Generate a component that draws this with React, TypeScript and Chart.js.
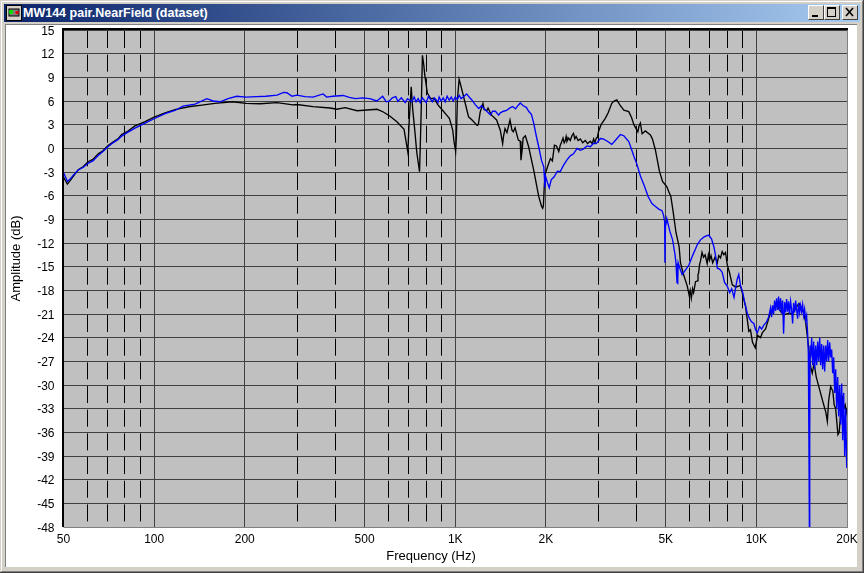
import React, { useEffect, useRef } from "react";
import { Chart, registerables } from "chart.js";

Chart.register(...registerables);

const windowTitle = "MW144 pair.NearField (dataset)";
const xAxisTitle = "Frequency (Hz)";
const yAxisTitle = "Amplitude (dB)";

const seriesNames = ["Blue trace", "Black trace"];

const dashedFreqs = [60, 70, 80, 90, 300, 400, 600, 700, 800, 900, 3000, 4000, 6000, 7000, 8000, 9000];
const labelledFreqs = [50, 100, 200, 500, 1000, 2000, 5000, 10000, 20000];
const labelTexts = ["50", "100", "200", "500", "1K", "2K", "5K", "10K", "20K"];

const blackFreqLow = [
  50, 51.5, 52.6, 53.5, 56, 58.2, 60.3, 62.6, 65.2, 67.6, 70.3, 73, 75.8, 78, 81.9, 86.4, 93.3, 100, 108.7, 117.3,
  131.5, 142, 159, 182, 202, 225, 256, 289, 298, 337, 384, 404, 431, 472, 550, 575, 606, 640, 676, 696, 702, 714,
  722, 733, 745, 761, 765, 771, 778, 786, 792, 808, 828, 850, 876, 909, 932, 956, 981, 991, 1003, 1009, 1016, 1030,
  1038, 1065, 1107, 1137, 1182, 1193, 1210, 1236, 1248, 1274, 1285, 1320, 1372, 1411, 1437, 1446, 1463, 1485, 1520,
  1543, 1559, 1580, 1620, 1644, 1653, 1670, 1680, 1709, 1753, 1822, 1893, 1933, 1952, 1962, 1977, 1992, 2023, 2070,
  2102, 2135, 2168, 2207,
];
const blackDbLow = [
  -3.63, -4.52, -4.1, -3.7, -2.7, -2.3, -1.7, -1.4, -0.7, -0.3, 0.35, 0.8, 1.2, 1.75, 2.2, 2.85, 3.4, 3.95, 4.5, 4.9,
  5.3, 5.45, 5.7, 5.9, 5.7, 5.65, 5.8, 5.5, 5.55, 5.28, 5.11, 4.95, 5.15, 4.77, 4.95, 4.64, 4.1, 3.38, 2.41, -0.5, 3,
  7.8, 5, 2.5, -0.5, -2.96, 0, 5, 11.8, 10.6, 9.3, 7, 6.3, 6.35, 5.5, 4.8, 4.3, 3.8, 2.3, 0.8, -0.4, 1.5, 6, 8.75,
  8.3, 6.6, 4, 3.6, 2.9, 3, 4.6, 5.7, 4.9, 4.8, 5.1, 4.2, 3.6, 2.3, 0.6, 1.5, 2.5, 2, 3.6, 2.3, 2.1, 2.6, 1.05, 0.9,
  -1.5, 0, 1.3, 1.6, 0.2, -2.75, -6.1, -7.3, -7.6, -7.3, -4.5, -3.2, -2.4, -1.3, -1.6, 0.4, 0.3, -0.4,
];

const blackFreqPlateau = [
  2233, 2260, 2280, 2300, 2320, 2335, 2350, 2380, 2410, 2440, 2470, 2495, 2520, 2560, 2603, 2650, 2704, 2750, 2810,
  2850, 2880, 2910, 2940, 2965,
];
const blackDbPlateau = [
  0.4, 0.9, 1.3, 0.7, 1.0, 1.5, 0.9, 1.3, 1.0, 1.6, 1.9, 1.2, 1.5, 1.0, 1.2, 0.7, 1.0, 0.6, 0.9, 0.6, 1.2, 0.7, 1.3,
  1.4,
];

const blackFreqFall = [
  2990, 3050, 3150, 3220, 3310, 3370, 3440, 3535, 3630, 3770, 3850, 3920, 4040, 4075, 4120, 4175, 4280, 4447, 4515,
  4620, 4765, 4880, 5040, 5120, 5200, 5290, 5410, 5540, 5597, 5730,
];
const blackDbFall = [
  2.1, 3, 3.8, 4.5, 5.7, 6, 6.15, 5.4, 4.85, 4.65, 3.9, 3, 2.1, 2.8, 3.2, 1.85, 2.2, 1.7, 1.2, -0.2, -2.9, -4.2,
  -4.85, -5.5, -6.1, -8, -10.7, -12.5, -14.5, -16,
];

const blackFreqShelf = [
  5900, 5980, 6030, 6080, 6140, 6190, 6280, 6370, 6400, 6430, 6480, 6523, 6600, 6675, 6760, 6865, 6930, 6990, 7070,
  7160, 7290, 7420, 7500, 7603, 7700, 7800, 7900, 8010,
];
const blackDbShelf = [
  -17.5, -18.6, -18, -19, -17.8, -18.3, -16.9, -16.8, -16, -15.8, -14.7, -14.3, -13.2, -13.8, -13.5, -14.6, -13.5,
  -14.2, -13.6, -14.5, -13.8, -14.5, -13.6, -13.9, -13.1, -13.5, -13.2, -14.8,
];

const blackFreqHigh = [
  8150, 8320, 8540, 8830, 8930, 9090, 9204, 9440, 9560, 9710, 9917, 10090, 10328, 10460, 10730, 11150, 11410, 11680,
  12037, 12320, 12830, 13200, 13500, 13850, 14390, 14570, 14830, 15030, 15150, 15330, 15550, 15810, 16150, 16540,
  16850, 17000, 17210, 17380, 17650, 17950, 18130, 18340, 18660, 18840, 19059, 19310, 19500, 19720, 19950, 20000,
];
const blackDbHigh = [
  -15.8, -17.3, -17.6, -17.4, -17.9, -19.2, -20, -23.2, -23, -24.6, -25.3, -23.7, -24, -23.4, -22.9, -20.8, -20.4,
  -19.8, -20.7, -21.1, -20.9, -21, -20.3, -19.65, -20.9, -22, -24.4, -26.5, -27.7, -28.5, -27.3, -29, -30.3, -31.8,
  -32.9, -33.4, -34.6, -32, -30.2, -30.8, -32.5, -33, -36.3, -36, -33.5, -31.8, -33, -32.5, -33.5, -33,
];

const blueFreqLow = [
  50, 50.6, 51.5, 52.6, 53.9, 56, 58.2, 60.3, 62.6, 65.2, 67.6, 70.3, 73, 75.8, 78, 81.9, 86.4, 93.3, 100, 108.7,
  117.3, 124.6, 136.8, 149.6, 157, 165.6, 176, 188, 202, 219, 235, 256, 269, 276, 287, 298, 317, 337, 364, 374, 392,
  424, 445, 466, 492, 520, 549, 574, 590, 604, 618, 635, 645, 662, 682, 694, 706, 718, 730, 741, 753, 765, 777, 789,
  801, 815, 827, 840, 852, 866, 876, 884, 898, 912, 926, 940, 955, 970, 985, 1000, 1015, 1031, 1046, 1062, 1092, 1112,
  1137, 1167, 1197, 1222, 1245, 1280, 1310, 1330, 1360, 1393, 1411, 1447, 1480, 1515, 1550, 1585, 1622, 1644, 1682,
  1722, 1753, 1790, 1822, 1860, 1893, 1933, 1968, 1986, 1993, 2022, 2052, 2083, 2130, 2184, 2233, 2285, 2350, 2410,
  2470, 2540, 2603, 2660, 2740, 2810, 2880, 2940, 3033, 3100, 3200, 3310, 3400, 3535, 3630, 3770, 3920, 4010, 4120,
  4250, 4370, 4500, 4635, 4740, 4860, 4920, 4960, 4970, 4990, 5040, 5160, 5270, 5370, 5410, 5450, 5480, 5500, 5570,
  5670, 5820, 5970, 6140, 6370, 6523, 6725, 6950, 7100, 7230, 7320, 7420, 7550, 7700, 7840, 8010, 8150, 8280, 8430,
  8540, 8650, 8740, 8861, 9000, 9140, 9330, 9490, 9640, 9810, 9940, 10070, 10250, 10410, 10590, 10810, 10980,
];
const blueDbLow = [
  -3.1, -3.5, -4.2, -3.9, -3.4, -2.75, -2.4, -1.9, -1.6, -0.9, -0.4, 0.2, 0.7, 1.1, 1.55, 2.05, 2.55, 3.2, 3.75, 4.4,
  4.8, 5.35, 5.6, 6.3, 6, 5.9, 6.3, 6.6, 6.5, 6.55, 6.6, 6.75, 7.1, 7.05, 6.6, 6.75, 6.55, 6.5, 6.9, 6.5, 6.6, 6.7,
  6.45, 6.3, 6.4, 6.3, 6, 6.6, 5.9, 6, 6.4, 6.55, 5.95, 6.4, 5.8, 6.3, 6.1, 5.9, 6.5, 5.9, 6.3, 5.8, 6.4, 6.1, 5.8,
  6.6, 6.2, 5.9, 6.4, 6.1, 5.8, 6.5, 6, 6.4, 5.9, 6.6, 6.1, 6.5, 6, 6.5, 6.2, 6.7, 6.3, 6.5, 6.9, 6.5, 6.1, 5.5, 5.05,
  5.4, 5.05, 4.6, 4.25, 4.7, 4.7, 4.2, 4.5, 4.7, 4.8, 5.1, 5.3, 5, 5.5, 5.75, 5.4, 5.2, 4.7, 4.3, 3.2, 1.5, 0.2, -1.5,
  -2.35, -5, -3.5, -4.3, -5, -4, -3.6, -2.9, -2.95, -2.2, -1.45, -0.95, -0.7, 0, -0.25, -0.1, 0.3, 0.2, 0.65, 0.6,
  1.25, 1.2, 0.9, 0.5, 1, 1.75, 1.6, 0.85, -1, -2, -3.5, -4.8, -6.1, -7, -7.4, -7.7, -7.9, -8.5, -9.3, -14.5, -10,
  -8.9, -10.5, -11.6, -13.5, -14.6, -17, -17.1, -14.5, -15.2, -16, -15.4, -14.8, -13.6, -12.2, -11.6, -11.2, -11,
  -11.5, -12.5, -13.6, -15.2, -15.3, -15.7, -17, -17.5, -18.3, -17.8, -18.9, -17.6, -16.5, -16, -17.4, -18.2, -19.5,
  -20.9, -21.6, -22, -22.2, -23, -23.4, -22.6, -22.9, -22.4, -22, -21.4,
];

const blueFreqBand = [
  11150, 11236, 11322, 11409, 11496, 11585, 11674, 11763, 11854, 11945, 12037, 12129, 12222, 12316, 12411, 12506,
  12602, 12699, 12797, 12895, 12994, 13094, 13195, 13296, 13398, 13501, 13605, 13710, 13815, 13921, 14028, 14136,
  14244, 14354, 14464, 14575, 14687,
];
const blueDbBand = [
  -20.2, -21.4, -19.9, -21, -19.3, -20.6, -19, -20.5, -18.8, -20.6, -19, -20.9, -19.3, -23.5, -19.5, -20.8, -19.1,
  -20.7, -19.4, -21, -19.4, -20.4, -22.2, -19.6, -20.8, -19.3, -20.4, -21.6, -19.6, -20.8, -19.9, -20.7, -19.8,
  -21.2, -20.4, -21.8, -21.2,
];

const blueFreqNotch = [14800, 14880, 14940, 15000, 15040, 15090];
const blueDbNotch = [-23.5, -26, -36, -48, -36, -25];

const blueFreqTop = [
  15150, 15266, 15383, 15501, 15620, 15740, 15861, 15983, 16106, 16230, 16352, 16478, 16604, 16732, 16860, 16990,
  17120, 17252, 17384, 17518, 17652, 17788, 17925, 18062, 18201, 18341, 18482, 18624, 18767, 18911, 19056, 19203,
  19350, 19499, 19649, 19800, 19952, 20000,
];
const blueDbTop = [
  -26.5, -24, -27.5, -24.5, -28, -25, -27.5, -24.5, -27, -24, -27.5, -24.8, -28, -25, -28.3, -25, -27, -24.3, -27,
  -24.6, -26.5, -25.5, -28.5, -26.5, -31, -28, -33, -29, -34, -30, -35, -29.8, -37, -31, -39, -33, -40.5, -37,
];

const blackFreq = [...blackFreqLow, ...blackFreqPlateau, ...blackFreqFall, ...blackFreqShelf, ...blackFreqHigh];
const blackDb = [...blackDbLow, ...blackDbPlateau, ...blackDbFall, ...blackDbShelf, ...blackDbHigh];
const blueFreq = [...blueFreqLow, ...blueFreqBand, ...blueFreqNotch, ...blueFreqTop];
const blueDb = [...blueDbLow, ...blueDbBand, ...blueDbNotch, ...blueDbTop];

const toPoints = (xs: number[], ys: number[]) => xs.map((x, i) => ({ x, y: ys[i] }));

const framePlugin = {
  id: "instrumentFrame",
  beforeDraw(chart: any) {
    const { ctx, chartArea: a } = chart;
    ctx.save();
    ctx.fillStyle = "#C0C0C0";
    ctx.fillRect(a.left, a.top, a.right - a.left, a.bottom - a.top);
    ctx.restore();
  },
  beforeDatasetsDraw(chart: any) {
    const { ctx, chartArea: a } = chart;
    ctx.save();
    ctx.fillStyle = "#808080";
    ctx.fillRect(a.left, a.bottom, a.right - a.left + 1, 1);
    ctx.fillRect(a.right, a.top, 1, a.bottom - a.top + 1);
    ctx.fillStyle = "#000000";
    ctx.fillRect(a.left - 1.5, a.top - 2, a.right - a.left + 2.5, 2);
    ctx.fillRect(a.left - 1.5, a.top - 2, 2, a.bottom - a.top + 2);
    ctx.restore();
  },
  afterDraw(chart: any) {
    const { ctx } = chart;
    ctx.save();
    ctx.fillStyle = "#000000";
    ctx.font = '13px "Liberation Sans"';
    ctx.textAlign = "center";
    ctx.textBaseline = "middle";
    ctx.fillText(xAxisTitle, 431, 556);
    ctx.translate(16, 258.5);
    ctx.rotate(-Math.PI / 2);
    ctx.fillText(yAxisTitle, 0, 0);
    ctx.restore();
  },
};

function CaptionButton({ left, children }: { left: number; children: React.ReactNode }) {
  return (
    <div
      style={{
        position: "absolute",
        left,
        top: 1,
        width: 16,
        height: 15,
        boxSizing: "border-box",
        background: "#D4D0C8",
        borderTop: "1px solid #FFFFFF",
        borderLeft: "1px solid #FFFFFF",
        borderRight: "1px solid #404040",
        borderBottom: "1px solid #404040",
      }}
    >
      <svg width="14" height="13" style={{ display: "block" }}>
        {children}
      </svg>
    </div>
  );
}

export default function App() {
  const canvasRef = useRef<HTMLCanvasElement>(null);

  useEffect(() => {
    if (!canvasRef.current) return;
    const chart = new Chart(canvasRef.current, {
      type: "line",
      data: {
        datasets: [
          {
            label: seriesNames[0],
            data: toPoints(blueFreq, blueDb),
            borderColor: "#0000FF",
            borderWidth: 1.35,
            pointRadius: 0,
            tension: 0,
          },
          {
            label: seriesNames[1],
            data: toPoints(blackFreq, blackDb),
            borderColor: "#000000",
            borderWidth: 1.35,
            pointRadius: 0,
            tension: 0,
          },
        ],
      },
      options: {
        animation: false,
        responsive: false,
        devicePixelRatio: 1,
        layout: { padding: { left: 0, top: 30, right: 17, bottom: 0 } },
        plugins: { legend: { display: false }, tooltip: { enabled: false }, title: { display: false } },
        scales: {
          x: {
            type: "logarithmic",
            min: 50,
            max: 20000,
            afterBuildTicks(scale: any) {
              scale.ticks = [...labelledFreqs, ...dashedFreqs]
                .sort((p, q) => p - q)
                .map((value) => ({ value }));
            },
            afterFit(scale: any) {
              scale.height = 46;
            },
            grid: {
              drawTicks: false,
              lineWidth: 1,
              color: (c: any) => (dashedFreqs.includes(c.tick?.value) ? "#000000" : "#404040"),
            },
            border: {
              display: false,
              dash: (c: any) => (dashedFreqs.includes(c.tick?.value) ? [17, 6.67] : []),
              dashOffset: -1,
            },
            ticks: {
              autoSkip: false,
              maxRotation: 0,
              minRotation: 0,
              padding: 5,
              color: "#000000",
              font: { family: '"Liberation Sans"', size: 12 },
              callback: (value: any) => {
                const i = labelledFreqs.indexOf(Number(value));
                return i >= 0 ? labelTexts[i] : "";
              },
            },
          },
          y: {
            type: "linear",
            min: -48,
            max: 15,
            afterFit(scale: any) {
              scale.width = 63.5;
            },
            grid: { drawTicks: false, lineWidth: 1, color: "#404040" },
            border: { display: false },
            ticks: {
              stepSize: 3,
              autoSkip: false,
              padding: 9,
              labelOffset: 1.5,
              color: "#000000",
              font: { family: '"Liberation Sans"', size: 12 },
            },
          },
        },
      } as any,
      plugins: [framePlugin],
    } as any);
    return () => chart.destroy();
  }, []);

  return (
    <div
      style={{
        position: "absolute",
        left: 0,
        top: 0,
        width: 864,
        height: 573,
        overflow: "hidden",
        background: "#D4D0C8",
      }}
    >
      <div style={{ position: "absolute", left: 1, top: 1, width: 861, height: 1, background: "#FFFFFF" }} />
      <div style={{ position: "absolute", left: 1, top: 1, width: 1, height: 570, background: "#FFFFFF" }} />
      <div style={{ position: "absolute", left: 863, top: 0, width: 1, height: 573, background: "#404040" }} />
      <div style={{ position: "absolute", left: 0, top: 572, width: 864, height: 1, background: "#404040" }} />
      <div style={{ position: "absolute", left: 862, top: 1, width: 1, height: 571, background: "#808080" }} />
      <div style={{ position: "absolute", left: 1, top: 571, width: 862, height: 1, background: "#808080" }} />
      <div
        style={{
          position: "absolute",
          left: 4,
          top: 4,
          width: 856,
          height: 18,
          background: "linear-gradient(90deg, #0A246A 0%, #A6CAF0 100%)",
        }}
      >
        <svg width="18" height="18" style={{ position: "absolute", left: 2, top: 1 }}>
          <rect x="0.5" y="0.5" width="15" height="15" fill="#D4D0C8" stroke="#000000" />
          <rect x="3" y="4" width="10" height="7" fill="#808080" stroke="#000000" />
          <circle cx="5" cy="7" r="2.2" fill="#00E000" />
          <circle cx="11" cy="7.5" r="1.8" fill="#E00000" />
        </svg>
        <div
          style={{
            position: "absolute",
            left: 19,
            top: 2,
            color: "#FFFFFF",
            font: 'bold 12.5px "Liberation Sans"',
            lineHeight: "14px",
            whiteSpace: "nowrap",
          }}
        >
          {windowTitle}
        </div>
        <CaptionButton left={804}>
          <rect x="3" y="9" width="6" height="2" fill="#000000" />
        </CaptionButton>
        <CaptionButton left={820}>
          <rect x="2.5" y="1.5" width="8" height="9" fill="none" stroke="#000000" />
          <rect x="2" y="1" width="9" height="2" fill="#000000" />
        </CaptionButton>
        <CaptionButton left={838}>
          <path d="M3 2 L10 10 M10 2 L3 10" stroke="#000000" strokeWidth="1.6" />
        </CaptionButton>
      </div>
      <div
        style={{
          position: "absolute",
          left: 5,
          top: 24,
          width: 852,
          height: 543,
          boxSizing: "border-box",
          background: "#FFFFFF",
          borderTop: "1px solid #808080",
          borderLeft: "1px solid #808080",
        }}
      />
      <canvas
        ref={canvasRef}
        width={864}
        height={573}
        style={{ position: "absolute", left: 0, top: 0, width: 864, height: 573 }}
      />
    </div>
  );
}
